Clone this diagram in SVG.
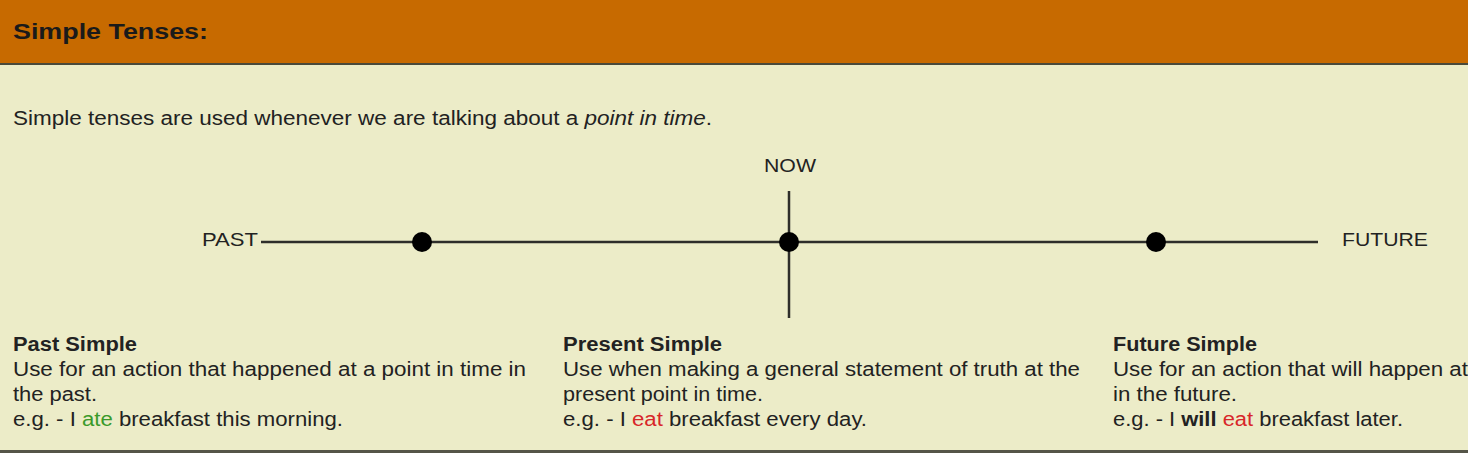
<svg xmlns="http://www.w3.org/2000/svg" width="1468" height="453" viewBox="0 0 1468 453">
<style>
.t{font-family:"Liberation Sans",Arial,sans-serif;fill:#222;}
.b{font-size:19.5px;}
.h{font-size:19.5px;font-weight:bold;}
.lbl{font-size:18px;fill:#222;}
.ln{stroke:#2e2e2a;stroke-width:2.5;fill:none;}
.dot{fill:#000;}
.green{fill:#3a9a2a;}
.red{fill:#d8262a;}
</style>
<rect x="0" y="0" width="1468" height="453" fill="#ECECC8"/>
<g id="header">
<rect x="0" y="0" width="1468" height="63" fill="#C76A00"/>
<rect x="0" y="63" width="1468" height="2" fill="#4a4a3a"/>
<text class="t" x="13" y="38.5" textLength="195" lengthAdjust="spacingAndGlyphs" style="font-size:22px;font-weight:bold;fill:#1a1a1a">Simple Tenses:</text>
</g>
<text id="intro" class="t b" x="13" y="125" textLength="699" lengthAdjust="spacingAndGlyphs">Simple tenses are used whenever we are talking about a <tspan font-style="italic">point in time</tspan>.</text>
<g id="connectors">
<line class="ln" x1="261" y1="242" x2="1318" y2="242"/>
<line class="ln" x1="789" y1="191" x2="789" y2="318"/>
</g>
<g id="past-label"><text class="t lbl" x="202" y="246" textLength="56" lengthAdjust="spacingAndGlyphs">PAST</text></g>
<g id="now-label"><text class="t lbl" x="764" y="172" textLength="52" lengthAdjust="spacingAndGlyphs">NOW</text></g>
<g id="future-label"><text class="t lbl" x="1342" y="246" textLength="86" lengthAdjust="spacingAndGlyphs">FUTURE</text></g>
<g id="dot-past"><circle class="dot" cx="422" cy="242" r="10"/></g>
<g id="dot-now"><circle class="dot" cx="789" cy="242" r="10"/></g>
<g id="dot-future"><circle class="dot" cx="1156" cy="242" r="10"/></g>
<g id="past-simple">
<text class="t h" x="13" y="351" textLength="124" lengthAdjust="spacingAndGlyphs">Past Simple</text>
<text class="t b" x="13" y="376" textLength="513" lengthAdjust="spacingAndGlyphs">Use for an action that happened at a point in time in</text>
<text class="t b" x="13" y="401" textLength="84" lengthAdjust="spacingAndGlyphs">the past.</text>
<text class="t b" x="13" y="426" textLength="330" lengthAdjust="spacingAndGlyphs">e.g. - I <tspan class="green">ate</tspan> breakfast this morning.</text>
</g>
<g id="present-simple">
<text class="t h" x="563" y="351" textLength="159" lengthAdjust="spacingAndGlyphs">Present Simple</text>
<text class="t b" x="563" y="376" textLength="517" lengthAdjust="spacingAndGlyphs">Use when making a general statement of truth at the</text>
<text class="t b" x="563" y="401" textLength="200" lengthAdjust="spacingAndGlyphs">present point in time.</text>
<text class="t b" x="563" y="426" textLength="304" lengthAdjust="spacingAndGlyphs">e.g. - I <tspan class="red">eat</tspan> breakfast every day.</text>
</g>
<g id="future-simple">
<text class="t h" x="1113" y="351" textLength="144" lengthAdjust="spacingAndGlyphs">Future Simple</text>
<text class="t b" x="1113" y="376" textLength="355" lengthAdjust="spacingAndGlyphs">Use for an action that will happen at</text>
<text class="t b" x="1113" y="401" textLength="124" lengthAdjust="spacingAndGlyphs">in the future.</text>
<text class="t b" x="1113" y="426" textLength="290" lengthAdjust="spacingAndGlyphs">e.g. - I <tspan font-weight="bold">will</tspan> <tspan class="red">eat</tspan> breakfast later.</text>
</g>
<rect x="0" y="450" width="1468" height="3" fill="#555548"/>
</svg>
